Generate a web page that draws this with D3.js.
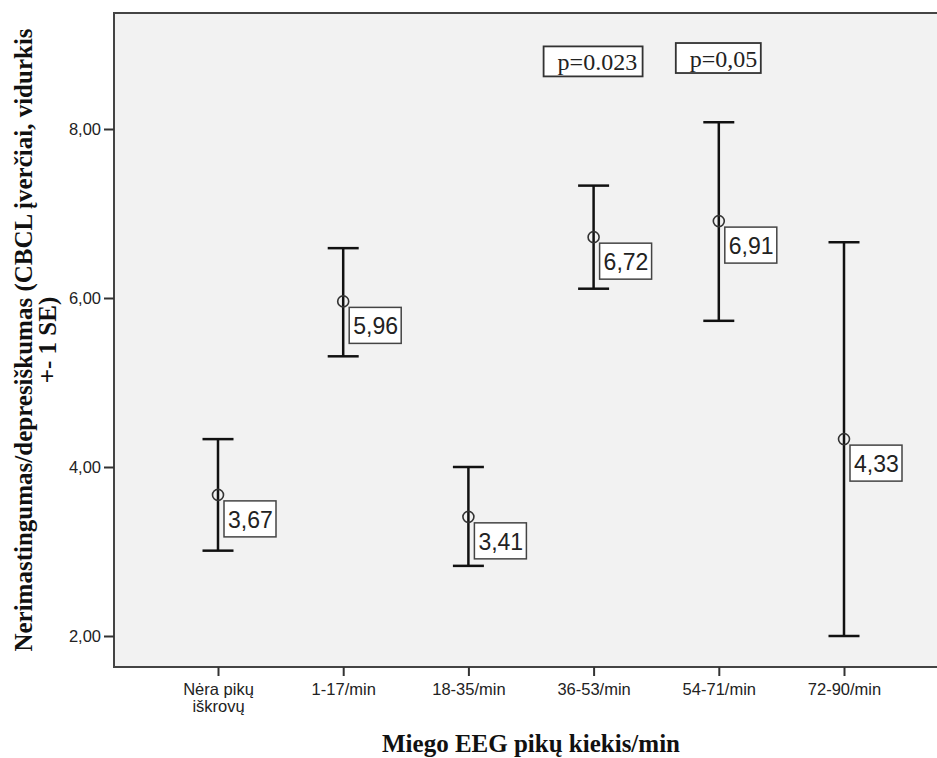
<!DOCTYPE html>
<html lang="lt">
<head>
<meta charset="UTF-8" />
<title>Miego EEG pikų kiekis</title>
<style>
    body { margin: 0; background: #fff; }
    svg { display: block; }
    .tick text { font: 16.5px "Liberation Sans", Arial, sans-serif; fill: #222; }
    .axisTitle { font: bold 25px "Liberation Serif", "Times New Roman", serif; fill: #111; }
    .valLabel { font: 23px "Liberation Sans", Arial, sans-serif; fill: #222; }
    .pLabel { font: 24px "Liberation Serif", "Times New Roman", serif; fill: #222; }
</style>
</head>
<body>
<svg width="937" height="758"></svg>
<script src="https://cdnjs.cloudflare.com/ajax/libs/d3/7.9.0/d3.min.js"></script>
<script>
    // categories on the x axis (first one wraps to two lines)
    const categories = ["Nėra pikų iškrovų", "1-17/min", "18-35/min", "36-53/min", "54-71/min", "72-90/min"];
    const means = [3.67, 5.96, 3.41, 6.72, 6.91, 4.33];
    const lowerSE = [3.01, 5.31, 2.83, 6.11, 5.73, 2.0];
    const upperSE = [4.33, 6.59, 4.0, 7.33, 8.08, 6.66];
    const yTicks = [2, 4, 6, 8];
    const pNotes = [
        { cat: "36-53/min", text: "p=0.023", y: 8.8 },
        { cat: "54-71/min", text: "p=0,05", y: 8.84 }
    ];

    const fmt = (v) => v.toFixed(2).replace(".", ",");

    const plot = { left: 114, top: 13, right: 945, bottom: 667 };

    const svg = d3.select("svg");

    const x = d3.scalePoint().domain(categories).range([218, 844]);
    const y = d3.scaleLinear().domain([2, 8]).range([636, 129]);

    // plot background
    svg.append("rect")
        .attr("x", plot.left)
        .attr("y", plot.top)
        .attr("width", plot.right - plot.left)
        .attr("height", plot.bottom - plot.top)
        .attr("fill", "#f2f2f2")
        .attr("stroke", "#444")
        .attr("stroke-width", 2);

    // y axis
    const yAxis = svg.append("g")
        .attr("transform", `translate(${plot.left},0)`)
        .call(d3.axisLeft(y).tickValues(yTicks).tickFormat(fmt).tickSize(10).tickSizeOuter(0));
    yAxis.select(".domain").remove();
    yAxis.selectAll(".tick line").attr("stroke", "#333").attr("stroke-width", 2);
    yAxis.selectAll(".tick text").attr("x", -13).attr("dy", "0.36em");

    // x axis
    const xAxis = svg.append("g")
        .attr("transform", `translate(0,${plot.bottom})`)
        .call(d3.axisBottom(x).tickSize(9).tickSizeOuter(0));
    xAxis.select(".domain").remove();
    xAxis.selectAll(".tick line").attr("stroke", "#333").attr("stroke-width", 2);
    xAxis.selectAll(".tick text").each(function (d) {
        const t = d3.select(this).text("").attr("y", 0).attr("dy", null);
        const lines = d === categories[0] ? ["Nėra pikų", "iškrovų"] : [d];
        lines.forEach((l, i) => {
            t.append("tspan").attr("x", 0).attr("y", 28 + i * 17).text(l);
        });
    });

    // error bars
    const capW = 31;
    const bars = svg.append("g")
        .selectAll("g")
        .data(categories.map((c, i) => ({ c, m: means[i], lo: lowerSE[i], hi: upperSE[i] })))
        .join("g")
        .attr("stroke", "#111")
        .attr("stroke-width", 2.5)
        .attr("fill", "none");

    bars.append("line")
        .attr("x1", (d) => x(d.c)).attr("x2", (d) => x(d.c))
        .attr("y1", (d) => y(d.hi)).attr("y2", (d) => y(d.lo));
    bars.append("line")
        .attr("x1", (d) => x(d.c) - capW / 2).attr("x2", (d) => x(d.c) + capW / 2)
        .attr("y1", (d) => y(d.hi)).attr("y2", (d) => y(d.hi));
    bars.append("line")
        .attr("x1", (d) => x(d.c) - capW / 2).attr("x2", (d) => x(d.c) + capW / 2)
        .attr("y1", (d) => y(d.lo)).attr("y2", (d) => y(d.lo));
    bars.append("circle")
        .attr("cx", (d) => x(d.c))
        .attr("cy", (d) => y(d.m))
        .attr("r", 5.5)
        .attr("stroke-width", 1.6)
        .attr("stroke", "#333");

    // value labels in boxes
    const labels = svg.append("g")
        .selectAll("g")
        .data(categories.map((c, i) => ({ c, m: means[i] })))
        .join("g")
        .attr("transform", (d) => `translate(${x(d.c) + 6},${y(d.m) + 6})`);
    labels.append("rect")
        .attr("width", 52).attr("height", 36)
        .attr("fill", "#fff").attr("stroke", "#444").attr("stroke-width", 1.5);
    labels.append("text")
        .attr("class", "valLabel")
        .attr("x", 4).attr("y", 27)
        .text((d) => fmt(d.m));

    // p-value notes
    const notes = svg.append("g")
        .selectAll("g")
        .data(pNotes)
        .join("g")
        .attr("transform", (d) => `translate(${x(d.cat)},${y(d.y)})`);
    notes.append("rect")
        .attr("x", (d) => (d.text.length > 6 ? -50 : -43))
        .attr("y", -15)
        .attr("width", (d) => (d.text.length > 6 ? 99 : 85))
        .attr("height", 30)
        .attr("fill", "#fff").attr("stroke", "#333").attr("stroke-width", 1.8);
    notes.append("text")
        .attr("class", "pLabel")
        .attr("x", (d) => (d.text.length > 6 ? -36 : -29))
        .attr("y", 9)
        .text((d) => d.text);

    // axis titles
    svg.append("text")
        .attr("class", "axisTitle")
        .attr("x", 531).attr("y", 752)
        .attr("text-anchor", "middle")
        .text("Miego EEG pikų kiekis/min");

    const yt = svg.append("text")
        .attr("class", "axisTitle")
        .attr("text-anchor", "middle")
        .attr("transform", "translate(0,340) rotate(-90)");
    yt.append("tspan").attr("x", 0).attr("y", 32).text("Nerimastingumas/depresiškumas (CBCL įverčiai, vidurkis");
    yt.append("tspan").attr("x", 0).attr("y", 56).text("+- 1 SE)");
</script>
</body>
</html>
